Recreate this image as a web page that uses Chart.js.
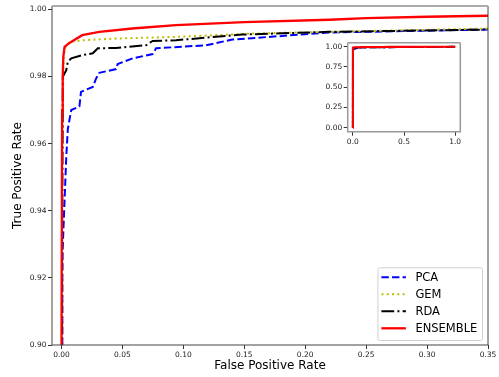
<!DOCTYPE html>
<html><head><meta charset="utf-8">
<script src="https://cdn.jsdelivr.net/npm/chart.js@4/dist/chart.umd.min.js"></script>
<style>
html,body{margin:0;padding:0;background:#fff;overflow:hidden}
#wrap{position:relative;width:499px;height:377px}
#main{position:absolute;left:0;top:0}
#inset{position:absolute;left:310px;top:36px}
</style></head><body>
<div id="wrap"><canvas id="main" width="499" height="377"></canvas><canvas id="inset" width="160" height="116"></canvas></div>
<script>
// ---- data ----
const seriesNames = ['PCA', 'GEM', 'RDA', 'ENSEMBLE'];
const pcaFPR = [0, 0.0007, 0.001, 0.0025, 0.0039, 0.0052, 0.008, 0.0147, 0.016, 0.0257, 0.0284, 0.0311, 0.0448, 0.0461, 0.0585, 0.0748, 0.0776, 0.1186, 0.14, 0.22, 0.351, 1];
const pcaTPR = [0, 0.920, 0.929, 0.943, 0.956, 0.9644, 0.970, 0.9711, 0.9754, 0.9769, 0.9794, 0.9811, 0.9822, 0.9837, 0.9854, 0.9867, 0.9884, 0.9893, 0.9910, 0.9931, 0.9940, 1];
const gemFPR = [0, 0.0005, 0.0015, 0.0025, 0.0066, 0.0175, 0.0448, 0.094, 0.157, 0.22, 0.351, 1];
const gemTPR = [0, 0.950, 0.983, 0.9884, 0.9903, 0.9908, 0.9913, 0.9918, 0.9928, 0.9933, 0.9943, 1];
const rdaFPR = [0, 0.0005, 0.0011, 0.0039, 0.0052, 0.008, 0.0175, 0.0257, 0.0298, 0.0448, 0.0694, 0.0748, 0.094, 0.148, 0.22, 0.351, 1];
const rdaTPR = [0, 0.930, 0.9799, 0.9819, 0.9844, 0.9854, 0.9864, 0.9869, 0.9884, 0.9885, 0.9893, 0.9906, 0.9908, 0.9925, 0.9933, 0.9940, 1];
const ensFPR = [0, 0, 0.0005, 0.001, 0.0015, 0.0025, 0.0065, 0.017, 0.031, 0.058, 0.094, 0.15, 0.22, 0.25, 0.30, 0.351, 1];
const ensTPR = [0, 0.90, 0.970, 0.980, 0.9859, 0.9888, 0.9900, 0.9923, 0.9933, 0.9943, 0.9953, 0.9962, 0.9969, 0.9974, 0.9978, 0.9981, 1];
const xTicks = [0.00, 0.05, 0.10, 0.15, 0.20, 0.25, 0.30, 0.35];
const yTicks = [0.90, 0.92, 0.94, 0.96, 0.98, 1.00];
const insetXTicks = [0.0, 0.5, 1.0];
const insetYTicks = [0.00, 0.25, 0.50, 0.75, 1.00];

// ---- styles ----
const colors = ['#0000ff', '#bfbf00', '#000000', '#ff0000'];
const dashes = [[7.4, 3.2], [2, 3.3], [12.8, 3.2, 2, 3.2], []];
const widths = [2, 2, 2, 2.3];
const FONT = 'DejaVu Sans';

function pts(xs, ys) { return xs.map((x, i) => ({x: x, y: ys[i]})); }
const allSeries = [[pcaFPR, pcaTPR], [gemFPR, gemTPR], [rdaFPR, rdaTPR], [ensFPR, ensTPR]];

function makeDatasets(scale) {
  return allSeries.map((s, i) => ({
    label: seriesNames[i],
    data: pts(s[0], s[1]),
    showLine: true,
    borderColor: colors[i],
    backgroundColor: colors[i],
    borderWidth: widths[i] * scale,
    borderDash: dashes[i].map(d => d * scale),
    pointRadius: 0,
    tension: 0,
    fill: false,
    order: 4 - i
  }));
}

const framePlugin = {
  id: 'frame',
  afterDatasetsDraw(chart, args, opts) {
    const {ctx, chartArea: a} = chart;
    ctx.save();
    ctx.lineWidth = opts.width || 1;
    ctx.strokeStyle = opts.color || '#444';
    ctx.beginPath();
    ctx.moveTo(a.left, a.top); ctx.lineTo(a.left, a.bottom); ctx.lineTo(a.right, a.bottom); ctx.lineTo(a.right, a.top);
    ctx.stroke();
    ctx.strokeStyle = opts.topColor || ctx.strokeStyle;
    ctx.lineWidth = opts.topWidth || ctx.lineWidth;
    ctx.beginPath(); ctx.moveTo(a.left, a.top); ctx.lineTo(a.right, a.top); ctx.stroke();
    ctx.restore();
  }
};

const bgPlugin = {
  id: 'bg',
  beforeDraw(chart) {
    const {ctx, chartArea: a} = chart;
    ctx.save(); ctx.fillStyle = '#fff';
    ctx.fillRect(a.left, a.top, a.right - a.left, a.bottom - a.top);
    ctx.restore();
  }
};

const legendPlugin = {
  id: 'boxLegend',
  afterDraw(chart) {
    const {ctx, chartArea: a} = chart;
    const w = 104.6, h = 72.7;
    const x = a.right - 6 - w, y = a.bottom - 5 - h;
    ctx.save();
    ctx.fillStyle = 'rgba(255,255,255,0.8)';
    ctx.strokeStyle = '#d0d0d0';
    ctx.lineWidth = 1;
    ctx.beginPath();
    ctx.roundRect(x + 0.5, y + 0.5, w, h, 2);
    ctx.fill(); ctx.stroke();
    ctx.font = '11.5px "' + FONT + '"';
    ctx.textBaseline = 'middle';
    ctx.textAlign = 'left';
    chart.data.datasets.forEach((ds, i) => {
      const ry = y + 10 + i * 17;
      ctx.strokeStyle = ds.borderColor;
      ctx.lineWidth = ds.borderWidth;
      ctx.setLineDash(ds.borderDash);
      ctx.beginPath(); ctx.moveTo(x + 4, ry); ctx.lineTo(x + 28.5, ry); ctx.stroke();
      ctx.setLineDash([]);
      ctx.fillStyle = '#000';
      ctx.fillText(ds.label, x + 38, ry + 0.5);
    });
    ctx.restore();
  }
};

function axis(opts) {
  return Object.assign({
    type: 'linear',
    grid: {display: true, drawOnChartArea: false, drawTicks: true, tickLength: 4, color: '#333', lineWidth: 1},
    border: {display: false},
  }, opts);
}

new Chart(document.getElementById('main'), {
  type: 'scatter',
  data: {datasets: makeDatasets(1)},
  options: {
    responsive: false, animation: false,
    layout: {padding: {left: 0, top: 6, right: 11, bottom: 0}},
    plugins: {legend: {display: false}, tooltip: {enabled: false},
      frame: {color: '#444', width: 1, topColor: '#aaa', topWidth: 2}},
    scales: {
      x: axis({
        min: -0.0078, max: 0.35,
        afterBuildTicks: s => { s.ticks = xTicks.map(v => ({value: v})); },
        afterFit: s => { s.height = 32; },
        ticks: {padding: 2, color: '#222', font: {family: FONT, size: 7.5}, callback: v => Number(v).toFixed(2), maxRotation: 0, autoSkip: false},
        title: {display: true, text: 'False Positive Rate', color: '#000', font: {family: FONT, size: 12}, padding: {top: 4, bottom: 4}}
      }),
      y: axis({
        min: 0.90, max: 1.001,
        afterBuildTicks: s => { s.ticks = yTicks.map(v => ({value: v})); },
        afterFit: s => { s.width = 52; },
        ticks: {padding: 1.5, color: '#222', font: {family: FONT, size: 7.5}, callback: v => Number(v).toFixed(2), autoSkip: false},
        title: {display: true, text: 'True Positive Rate', color: '#000', font: {family: FONT, size: 12}, padding: {top: 11, bottom: 11}}
      })
    }
  },
  plugins: [framePlugin, legendPlugin]
});

new Chart(document.getElementById('inset'), {
  type: 'scatter',
  data: {datasets: makeDatasets(0.9)},
  options: {
    responsive: false, animation: false,
    layout: {padding: {left: 0, top: 6.7, right: 9.7, bottom: 0}},
    plugins: {legend: {display: false}, tooltip: {enabled: false},
      frame: {color: '#999', width: 1.5, topColor: '#999', topWidth: 1.5}},
    scales: {
      x: axis({
        min: -0.05, max: 1.05,
        afterBuildTicks: s => { s.ticks = insetXTicks.map(v => ({value: v})); },
        afterFit: s => { s.height = 20.3; },
        ticks: {padding: 2, color: '#222', font: {family: FONT, size: 7.5}, callback: v => Number(v).toFixed(1), maxRotation: 0, autoSkip: false}
      }),
      y: axis({
        min: -0.05, max: 1.05,
        afterBuildTicks: s => { s.ticks = insetYTicks.map(v => ({value: v})); },
        afterFit: s => { s.width = 37.7; },
        ticks: {padding: 1.5, color: '#222', font: {family: FONT, size: 7.5}, callback: v => Number(v).toFixed(2), autoSkip: false}
      })
    }
  },
  plugins: [bgPlugin, framePlugin]
});
</script>
</body></html>
